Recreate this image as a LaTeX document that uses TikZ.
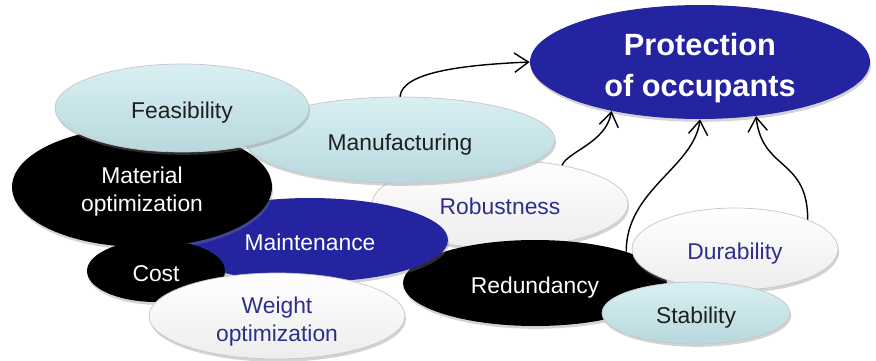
\documentclass[tikz,border=0pt]{standalone}
\usepackage{fontspec}
\setmainfont{Liberation Sans}
\usetikzlibrary{shapes.geometric, shadows, arrows.meta}
\definecolor{paleblue}{RGB}{184,216,221}
\definecolor{paletop}{RGB}{216,240,243}
\definecolor{deepblue}{RGB}{36,36,160}
\definecolor{textblue}{RGB}{46,46,140}

\begin{document}
\begin{tikzpicture}[x=0.02cm, y=0.02cm,
    bubble/.style={ellipse, inner sep=0pt, align=center, text height=11.5pt, text depth=0pt,
        font=\fontsize{13}{16}\selectfont,
        drop shadow={shadow xshift=0.6pt, shadow yshift=-1.6pt, opacity=0.35}},
    twoline/.style={text height=#1},
    lightbub/.style={bubble, top color=paletop, bottom color=paleblue, draw=gray!45, text=black!88},
    whitebub/.style={bubble, top color=white, bottom color=gray!14, draw=gray!45, text=textblue},
    blackbub/.style={bubble, fill=black, text=white},
    bluebub/.style={bubble, fill=deepblue, text=white},
    link/.style={-{Straight Barb[length=8pt, width=11pt]}, line width=0.8pt}]
    \useasboundingbox (0,0) rectangle (876,360);

    % 後ろの楕円
    \node[whitebub, minimum width=5.12cm, minimum height=1.76cm] (robust) at (500,156) {Robustness};
    \node[blackbub, minimum width=5.28cm, minimum height=1.72cm] (redund) at (535,77) {Redundancy};
    \node[bluebub, minimum width=5.52cm, minimum height=1.68cm] (maint) at (310,120) {Maintenance};
    \node[lightbub, minimum width=6.2cm, minimum height=1.72cm] (manuf) at (400,220) {Manufacturing};
    \node[blackbub, twoline=28pt, minimum width=5.2cm, minimum height=2.4cm] (mater) at (142,173) {Material\\optimization};
    \node[lightbub, minimum width=5.08cm, minimum height=1.76cm] (feas) at (182,252) {Feasibility};

    % 手前の楕円
    \node[blackbub, minimum width=2.76cm, minimum height=1.24cm] (cost) at (156,89) {Cost};
    \node[whitebub, twoline=28.7pt, minimum width=5.12cm, minimum height=1.72cm] (weight) at (277,44) {Weight\\optimization};
    \node[whitebub, minimum width=4.12cm, minimum height=1.64cm] (durab) at (735,111) {Durability};
    \node[lightbub, minimum width=3.76cm, minimum height=1.24cm] (stab) at (696,47) {Stability};

    % 目標
    \node[bluebub, twoline=38.7pt, minimum width=6.8cm, minimum height=2.28cm,
        font=\bfseries\fontsize{17.5}{22.8}\selectfont] (prot) at (700,298) {Protection\\of occupants};

    % 矢印
    \draw[link] (manuf.north) .. controls +(2,24) and +(-70,-3) .. (prot.west);
    \draw[link] (robust.32) .. controls +(6,14) and +(-6,-32) .. (prot.209);
    \draw[link] (redund.19) .. controls +(0,62) and +(-6,-48) .. (prot.south);
    \draw[link] (durab.22) .. controls +(0,62) and +(6,-55) .. (prot.316);

\end{tikzpicture}
\end{document}
